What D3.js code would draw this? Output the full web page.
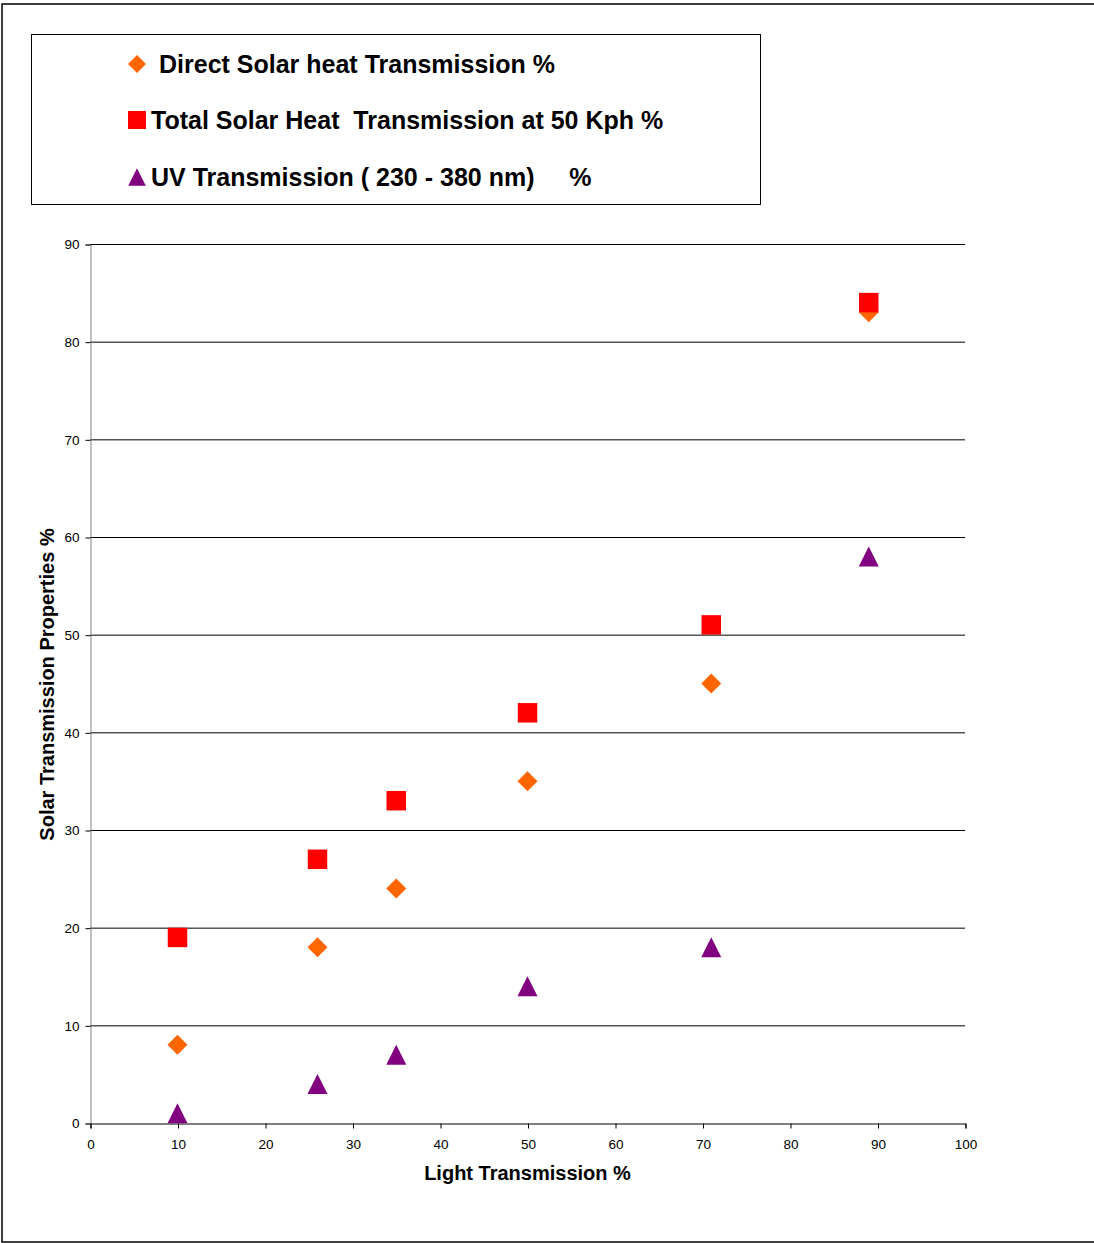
<!DOCTYPE html>
<html>
<head>
<meta charset="utf-8">
<script src="https://cdn.jsdelivr.net/npm/d3@7"></script>
<style>
  body { margin: 0; background: #fff; }
  text { font-family: "Liberation Sans", Arial, sans-serif; }
</style>
</head>
<body>
<svg id="chart"></svg>
<script>
// Values
const lightTransmission = [10, 26, 35, 50, 71, 89];
const directSolar = [8, 18, 24, 35, 45, 83];
const totalSolar = [19, 27, 33, 42, 51, 84];
const uvTransmission = [1, 4, 7, 14, 18, 58];
const xTicks = [0, 10, 20, 30, 40, 50, 60, 70, 80, 90, 100];
const yTicks = [0, 10, 20, 30, 40, 50, 60, 70, 80, 90];
const seriesNames = [
  "Direct Solar heat Transmission %",
  "Total Solar Heat  Transmission at 50 Kph %",
  "UV Transmission ( 230 - 380 nm)     %"
];

const width = 1094, height = 1243;
const svg = d3.select("#chart").attr("width", width).attr("height", height);

// outer chart border (right edge is cut off in the picture)
svg.append("rect")
  .attr("x", 2).attr("y", 4)
  .attr("width", width + 10).attr("height", 1238)
  .attr("fill", "none").attr("stroke", "#000").attr("stroke-width", 1.5);

const x = d3.scaleLinear().domain([0, 100]).range([90, 965]);
const y = d3.scaleLinear().domain([0, 90]).range([1123, 244]);

// gridlines
svg.append("g")
  .selectAll("line")
  .data(yTicks.filter(d => d > 0))
  .enter().append("line")
  .attr("x1", x(0)).attr("x2", x(100))
  .attr("y1", d => y(d) + 0.5).attr("y2", d => y(d) + 0.5)
  .attr("stroke", "#000").attr("stroke-width", 1);

// Y axis
const yAxis = svg.append("g")
  .attr("transform", `translate(${x(0) + 0.5},0.5)`)
  .call(d3.axisLeft(y).tickValues(yTicks).tickSize(5).tickPadding(6));
yAxis.select(".domain").attr("stroke", "#808080");
yAxis.selectAll(".tick line").attr("stroke", "#000");
yAxis.selectAll("text").style("font-size", "13.5px").attr("fill", "#000");

// X axis
const xAxis = svg.append("g")
  .attr("transform", `translate(0.5,${y(0) + 0.5})`)
  .call(d3.axisBottom(x).tickValues(xTicks).tickSize(5).tickPadding(11));
xAxis.select(".domain").attr("stroke", "#000");
xAxis.selectAll("text").style("font-size", "13.5px").attr("fill", "#000");

// axis titles
svg.append("text")
  .attr("x", x(50)).attr("y", 1180)
  .attr("text-anchor", "middle")
  .style("font-size", "20px").style("font-weight", "bold")
  .text("Light Transmission %");

svg.append("text")
  .attr("transform", `translate(54,${y(45) + 1}) rotate(-90)`)
  .attr("text-anchor", "middle")
  .style("font-size", "20px").style("font-weight", "bold")
  .text("Solar Transmission Properties %");

// Excel-style triangle: as tall as it is wide, centred on its box
const excelTriangle = {
  draw(context, size) {
    const r = Math.sqrt(size) / 2;
    context.moveTo(0, -r);
    context.lineTo(r, r);
    context.lineTo(-r, r);
    context.closePath();
  }
};

const symbols = [d3.symbolSquare, d3.symbolSquare, excelTriangle];
const rotations = [45, 0, 0];
const colors = ["#ff6600", "#ff0000", "#800080"];
const sizes = [200, 380, 400];
const series = [directSolar, totalSolar, uvTransmission];

// draw UV first, then diamonds, then squares on top
[2, 0, 1].forEach(i => {
  svg.append("g")
    .selectAll("path")
    .data(series[i].map((v, j) => ({ x: lightTransmission[j], y: v })))
    .enter().append("path")
    .attr("transform", d => `translate(${x(d.x)},${y(d.y)}) rotate(${rotations[i]})`)
    .attr("d", d3.symbol().type(symbols[i]).size(sizes[i]))
    .attr("fill", colors[i]);
});

// legend
const legend = svg.append("g");
legend.append("rect")
  .attr("x", 31.5).attr("y", 34.5)
  .attr("width", 729).attr("height", 170)
  .attr("fill", "#fff").attr("stroke", "#000").attr("stroke-width", 1);

const legendY = [64, 120, 177];
const legendTextX = [159, 151, 151];
const legendSizes = [162, 324, 310];
seriesNames.forEach((name, i) => {
  legend.append("path")
    .attr("transform", `translate(137,${legendY[i]}) rotate(${rotations[i]})`)
    .attr("d", d3.symbol().type(symbols[i]).size(legendSizes[i]))
    .attr("fill", colors[i]);
  legend.append("text")
    .attr("x", legendTextX[i]).attr("y", legendY[i])
    .attr("dy", "0.36em")
    .style("font-size", "25px").style("font-weight", "bold")
    .attr("xml:space", "preserve")
    .text(name);
});
</script>
</body>
</html>
